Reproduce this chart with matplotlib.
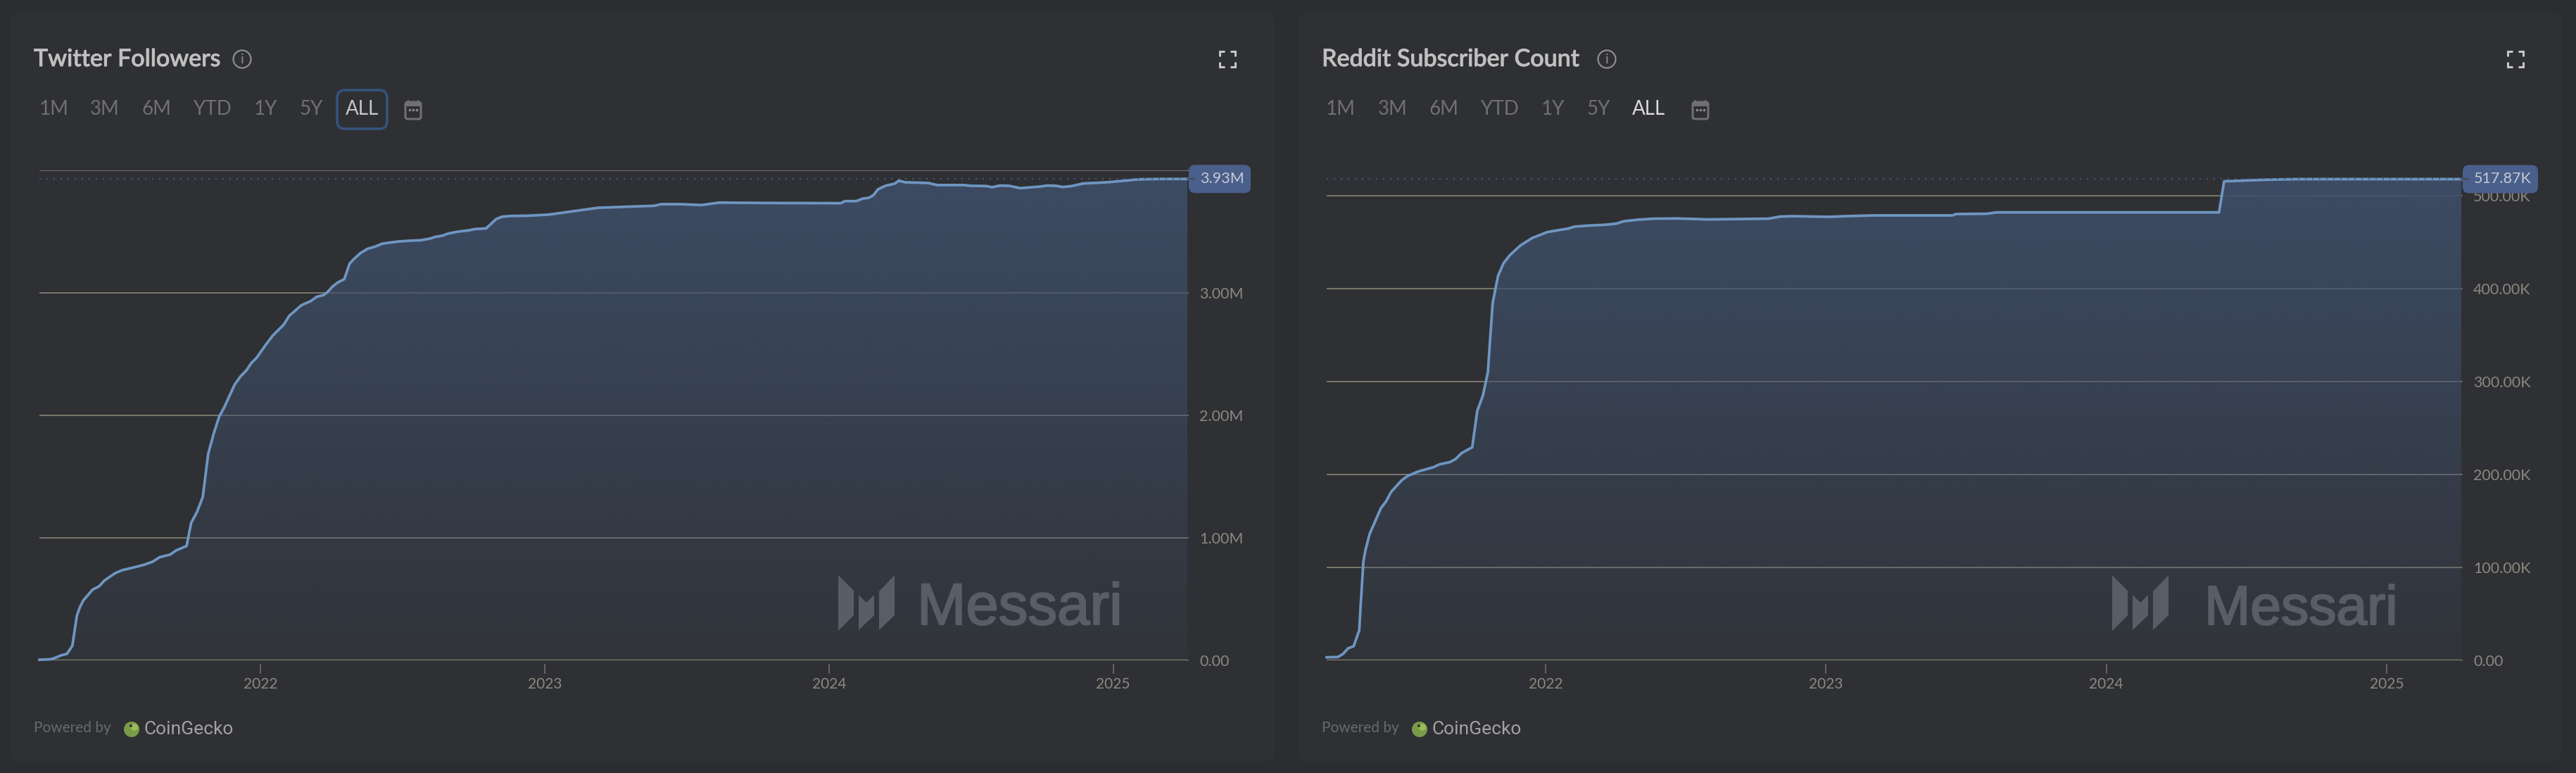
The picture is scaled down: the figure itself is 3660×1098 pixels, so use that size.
import matplotlib
matplotlib.use('Agg')

import matplotlib.patheffects as pe
import matplotlib.pyplot as plt
import numpy as np
from matplotlib.patches import Circle, FancyBboxPatch, Polygon

W, H = 3660, 1098

# decimal years / millions
twitter_years = [2021.221, 2021.260, 2021.276, 2021.297, 2021.318, 2021.337, 2021.353, 2021.363, 2021.375,
                 2021.408, 2021.431, 2021.450, 2021.487, 2021.512, 2021.561, 2021.590, 2021.619, 2021.644,
                 2021.681, 2021.702, 2021.739, 2021.755, 2021.776, 2021.796, 2021.815, 2021.834, 2021.854,
                 2021.871, 2021.908, 2021.929, 2021.949, 2021.966, 2021.986, 2022.015, 2022.042, 2022.081,
                 2022.100, 2022.143, 2022.176, 2022.197, 2022.220, 2022.234, 2022.253, 2022.271, 2022.294,
                 2022.313, 2022.329, 2022.350, 2022.375, 2022.403, 2022.428, 2022.482, 2022.527, 2022.564,
                 2022.597, 2022.614, 2022.639, 2022.659, 2022.692, 2022.734, 2022.754, 2022.793, 2022.829,
                 2022.849, 2022.882, 2022.943, 2023.014, 2023.188, 2023.385, 2023.409, 2023.480, 2023.551,
                 2023.614, 2023.764, 2024.041, 2024.056, 2024.096, 2024.119, 2024.140, 2024.156, 2024.172,
                 2024.198, 2024.230, 2024.246, 2024.267, 2024.349, 2024.380, 2024.475, 2024.499, 2024.554,
                 2024.574, 2024.601, 2024.633, 2024.673, 2024.743, 2024.767, 2024.799, 2024.823, 2024.854,
                 2024.894, 2024.981, 2025.091, 2025.170, 2025.261]
twitter_followers = [0.005, 0.009, 0.020, 0.041, 0.053, 0.120, 0.366, 0.431, 0.488,
                     0.577, 0.604, 0.652, 0.711, 0.736, 0.763, 0.781, 0.805, 0.842,
                     0.863, 0.897, 0.934, 1.122, 1.214, 1.334, 1.685, 1.848, 1.992,
                     2.063, 2.251, 2.319, 2.366, 2.424, 2.472, 2.568, 2.651, 2.741,
                     2.812, 2.899, 2.933, 2.968, 2.981, 3.004, 3.052, 3.085, 3.112,
                     3.240, 3.279, 3.323, 3.359, 3.378, 3.402, 3.419, 3.426, 3.430,
                     3.444, 3.457, 3.467, 3.484, 3.499, 3.511, 3.521, 3.526, 3.603,
                     3.622, 3.628, 3.630, 3.639, 3.695, 3.711, 3.724, 3.724, 3.717,
                     3.737, 3.734, 3.732, 3.749, 3.749, 3.770, 3.776, 3.797, 3.845,
                     3.874, 3.891, 3.916, 3.903, 3.897, 3.880, 3.880, 3.874, 3.872,
                     3.862, 3.876, 3.874, 3.855, 3.868, 3.876, 3.874, 3.864, 3.872,
                     3.893, 3.903, 3.927, 3.930, 3.930]

# decimal years / thousands
reddit_years = [2021.219, 2021.259, 2021.278, 2021.295, 2021.315, 2021.335, 2021.340, 2021.350, 2021.357,
                2021.372, 2021.412, 2021.431, 2021.449, 2021.487, 2021.508, 2021.546, 2021.600, 2021.621,
                2021.659, 2021.679, 2021.700, 2021.738, 2021.756, 2021.776, 2021.794, 2021.801, 2021.811,
                2021.830, 2021.849, 2021.872, 2021.910, 2021.952, 2022.006, 2022.081, 2022.102, 2022.152,
                2022.211, 2022.253, 2022.278, 2022.328, 2022.387, 2022.470, 2022.579, 2022.794, 2022.838,
                2022.881, 2023.011, 2023.068, 2023.169, 2023.450, 2023.464, 2023.573, 2023.609, 2024.402,
                2024.420, 2024.568, 2024.684, 2025.266]
reddit_subscribers = [3.3, 3.6, 7.1, 12.9, 15.2, 32.3, 58.9, 106.8, 118.2,
                      135.9, 163.6, 171.2, 181.4, 193.9, 198.5, 203.3, 207.9, 210.9,
                      213.4, 216.7, 223.0, 229.3, 268.5, 284.8, 310.2, 341.7, 384.6,
                      413.6, 427.0, 435.9, 446.5, 454.5, 460.9, 464.7, 466.7, 467.9,
                      468.7, 470.0, 472.5, 474.2, 475.3, 475.5, 474.5, 475.3, 477.6,
                      478.0, 477.3, 478.0, 478.8, 478.8, 480.3, 480.6, 482.1, 482.1,
                      515.5, 517.2, 517.87, 517.87]

year_ticks = [2022, 2023, 2024, 2025]
twitter_ticks = [0, 1, 2, 3, 4]
twitter_labels = ['0.00', '1.00M', '2.00M', '3.00M', '']
reddit_ticks = [0, 100, 200, 300, 400, 500]
reddit_labels = ['0.00', '100.00K', '200.00K', '300.00K', '400.00K', '500.00K']
range_buttons = ['1M', '3M', '6M', 'YTD', '1Y', '5Y', 'ALL']

BG = '#2c2d30'
PANEL = '#2f3033'
LINE = '#6f96c2'
GRID = '#78756b'
FONT = 'Lato'
PT = 72 / 100  # one pixel, in points

plt.rcParams['font.family'] = [FONT, 'DejaVu Sans']

fig = plt.figure(figsize=(W / 100, H / 100), dpi=100, facecolor=BG)


def px_axes(zorder):
    a = fig.add_axes([0, 0, 1, 1], zorder=zorder)
    a.set_xlim(0, W)
    a.set_ylim(H, 0)
    a.axis('off')
    return a


back = px_axes(0)
front = px_axes(5)


def round_box(a, x0, y0, x1, y1, r, **kw):
    a.add_patch(FancyBboxPatch((x0 + r, y0 + r), x1 - x0 - 2 * r, y1 - y0 - 2 * r,
                               boxstyle='round,pad=%d,rounding_size=%d' % (r, r), **kw))


def draw_chart(rect, xlim, ylim, years, values, ticks, labels, last_label, last_value, fmt_badge):
    left, right, top, bottom = rect
    ax = fig.add_axes([left / W, (H - bottom) / H, (right - left) / W, (bottom - top) / H], zorder=2)
    ax.patch.set_alpha(0)

    ax.set_yticks(ticks)
    ax.set_yticklabels(labels)
    ax.set_xticks(year_ticks)
    ax.set_xticklabels([str(y) for y in year_ticks])
    ax.yaxis.tick_right()
    ax.grid(axis='y', color=GRID, lw=2 * PT, zorder=1)
    ax.set_axisbelow(True)
    for s in ['top', 'left', 'right']:
        ax.spines[s].set_visible(False)
    ax.spines['bottom'].set_position(('outward', 5 * PT))
    ax.spines['bottom'].set_visible(False)
    ax.tick_params(axis='x', length=14 * PT, width=1.5 * PT, color=GRID, pad=5 * PT,
                   labelsize=15, labelcolor='#8a8880')
    ax.tick_params(axis='y', length=2 * PT, width=1.5 * PT, color=GRID, pad=15 * PT,
                   labelsize=15.5, labelcolor='#8a8880')

    # gradient area, clipped to the shape under the line
    poly = ax.fill_between(years, values, 0, color='none', lw=0)
    grad = np.zeros((256, 1, 4))
    grad[:, 0, 0] = 62 / 255
    grad[:, 0, 1] = 79 / 255
    grad[:, 0, 2] = 106 / 255
    grad[:, 0, 3] = np.linspace(0.9, 0.12, 256)
    im = ax.imshow(grad, extent=[xlim[0], xlim[1], 0, ylim[1]], origin='upper', aspect='auto', zorder=2)
    im.set_clip_path(poly.get_paths()[0], transform=ax.transData)

    ax.axhline(0, color='#85816f', lw=2.4 * PT, zorder=2.5)
    ax.plot(years, values, color=LINE, lw=2.7, zorder=3, clip_on=False, solid_joinstyle='round')
    ax.axhline(last_value, color='#46598a', lw=2 * PT, ls=(0, (1, 4)), zorder=4)
    ax.set_xlim(*xlim)
    ax.set_ylim(*ylim)

    # last value badge sits on the value through the axes scale
    yc = H - ax.transData.transform((xlim[1], last_value))[1]
    x0, x1 = fmt_badge
    round_box(front, x0, yc - 20, x1, yc + 20, 9, fc='#4a5f8b', ec='none')
    front.plot([right, x0 + 8], [yc, yc], color='#45464a', lw=2 * PT)
    front.text((x0 + x1) / 2 + 3, yc, last_label, color='#c6cad2', fontsize=15.5, ha='center', va='center')
    return ax


def header(dx, title, info_x, button_x, calendar_x, active_color):
    front.text(48 + dx, 84, title, color='#c0c0c0', fontsize=24.5, fontweight='medium', va='center',
               path_effects=[pe.withStroke(linewidth=0.6, foreground='#c0c0c0')])
    front.add_patch(Circle((info_x, 84), 12.5, fc='none', ec='#8e8e8e', lw=2.2 * PT))
    front.text(info_x, 84.5, 'i', color='#8e8e8e', fontsize=14, ha='center', va='center')
    for name, x in zip(range_buttons, button_x):
        c = active_color if name == 'ALL' else '#707070'
        front.text(x, 155, name, color=c, fontsize=20, ha='center', va='center')

    # calendar icon
    round_box(front, calendar_x - 11, 145, calendar_x + 11, 169, 3, fc='none', ec='#707070', lw=3 * PT)
    front.fill_between([calendar_x - 11, calendar_x + 11], 145, 151, color='#707070', lw=0)
    for off in [-7, 7]:
        front.plot([calendar_x + off] * 2, [143, 147], color='#707070', lw=2 * PT)
    for off in [-5, 0, 5]:
        front.plot(calendar_x + off, 156, 's', color='#8a8a8a', ms=1.4)

    # fullscreen icon
    ix, iy = 1744 + dx, 84
    for sx in [-1, 1]:
        for sy in [-1, 1]:
            front.plot([ix + sx * 4, ix + sx * 11, ix + sx * 11], [iy + sy * 11, iy + sy * 11, iy + sy * 4],
                       color='#c6c6c6', lw=3 * PT, solid_joinstyle='miter', solid_capstyle='butt')

    # footer
    front.text(48 + dx, 1034, 'Powered by', color='#68696c', fontsize=15, va='center')
    front.add_patch(Circle((187 + dx, 1036), 11, fc='#7a9c48', ec='none'))
    front.add_patch(Circle((191 + dx, 1033), 5, fc='#9cbc5c', ec='none'))
    front.add_patch(Circle((186 + dx, 1031), 2, fc='#2f3033', ec='none'))
    front.text(205 + dx, 1036, 'CoinGecko', color='#a2a2a2', fontsize=19, family='Roboto', va='center')


def watermark(logo_x, text_x, size):
    shapes = [[(0, 0), (22, 22), (22, 57), (0, 79)],
              [(29, 28), (40, 39), (51, 28), (51, 57), (29, 78)],
              [(58, 23), (80, 0), (80, 57), (58, 78)]]
    for s in shapes:
        front.add_patch(Polygon([(logo_x + p[0], 817 + p[1]) for p in s], fc='#595d66', ec='none'))
    front.text(text_x, 887, 'Messari', color='#595d66', fontsize=size, family='Liberation Sans', va='baseline',
               path_effects=[pe.withStroke(linewidth=1.6, foreground='#595d66')])


round_box(back, 14, 18, 1811, 1082, 14, fc=PANEL, ec='none')
round_box(back, 1844, 18, 3640, 1082, 14, fc=PANEL, ec='none')

draw_chart((56, 1687, 242, 938), (2021.221, 2025.261), (0, 4), twitter_years, twitter_followers,
           twitter_ticks, twitter_labels, '3.93M', 3.93, (1689, 1777))
draw_chart((1885, 3497, 252, 938), (2021.219, 2025.266), (0, 519.7), reddit_years, reddit_subscribers,
           reddit_ticks, reddit_labels, '517.87K', 517.87, (3499, 3606))

header(0, 'Twitter Followers', 344, [77, 149, 222, 301, 377, 442, 515], 587, '#c6c6c6')
header(1830, 'Reddit Subscriber Count', 2283, [1905, 1979, 2051, 2130, 2206, 2271, 2343], 2416, '#dcdcdc')

# ALL button states
round_box(front, 479, 128, 550, 183, 11, fc='none', ec='#35547f', lw=3.5 * PT)
round_box(back, 2312, 132, 2375, 178, 8, fc='#303135', ec='none')

watermark(1191, 1303, 60)
watermark(3001, 3132, 56.5)

fig.savefig('out.png', dpi=100, facecolor=BG)
